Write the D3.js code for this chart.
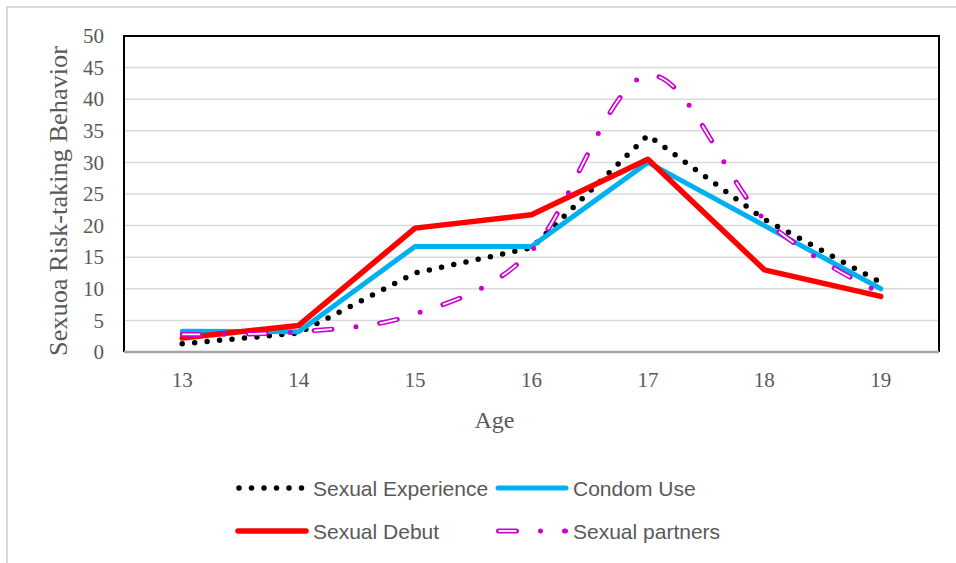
<!DOCTYPE html>
<html>
<head>
<meta charset="utf-8">
<script src="https://cdn.jsdelivr.net/npm/d3@7"></script>
<style>
  body { margin: 0; background: #fff; }
  svg { display: block; }
</style>
</head>
<body>
<svg width="956" height="563"></svg>
<script>
// chart data
var ages = ["13", "14", "15", "16", "17", "18", "19"];
var sexualExperience = [1.3, 3, 12.5, 16.5, 34.3, 21, 11];
var condomUse = [3.3, 3.2, 16.7, 16.7, 30, 20, 10];
var sexualDebut = [2.2, 4.2, 19.6, 21.7, 30.5, 13, 8.8];
var sexualPartners = [2.8, 3.2, 6, 16, 43.8, 21, 9.3];
var yTicks = [0, 5, 10, 15, 20, 25, 30, 35, 40, 45, 50];

var svg = d3.select("svg");

// outer chart border (only top and left visible)
svg.append("path")
  .attr("d", "M7,563 V7 H956")
  .attr("fill", "none")
  .attr("stroke", "#d9d9d9")
  .attr("stroke-width", 2);

var plot = { left: 124, right: 939, top: 36, bottom: 352 };

var x = d3.scaleBand()
  .domain(ages)
  .range([plot.left, plot.right]);

var y = d3.scaleLinear()
  .domain([0, 50])
  .range([plot.bottom, plot.top]);

// gridlines
svg.append("g")
  .selectAll("line")
  .data(yTicks.slice(1))
  .join("line")
  .attr("x1", plot.left)
  .attr("x2", plot.right)
  .attr("y1", function(d) { return y(d); })
  .attr("y2", function(d) { return y(d); })
  .attr("stroke", "#d9d9d9")
  .attr("stroke-width", 1.5);

// y axis labels
var yAxis = svg.append("g")
  .attr("transform", "translate(" + (plot.left - 20) + ",0)")
  .call(d3.axisLeft(y).tickValues(yTicks).tickSize(0).tickPadding(0));
yAxis.select(".domain").remove();
yAxis.selectAll("text")
  .attr("font-family", "'Liberation Serif', 'Times New Roman', serif")
  .attr("font-size", 21)
  .attr("fill", "#595959");

// x axis labels
var xAxis = svg.append("g")
  .attr("transform", "translate(0," + (plot.bottom + 20) + ")")
  .call(d3.axisBottom(x).tickSize(0).tickPadding(0));
xAxis.select(".domain").remove();
xAxis.selectAll("text")
  .attr("font-family", "'Liberation Serif', 'Times New Roman', serif")
  .attr("font-size", 21)
  .attr("fill", "#595959");

// plot frame
svg.append("path")
  .attr("d", "M" + plot.left + "," + plot.bottom + " V" + plot.top + " H" + plot.right + " V" + plot.bottom)
  .attr("fill", "none")
  .attr("stroke", "#000")
  .attr("stroke-width", 2);
svg.append("line")
  .attr("x1", plot.left).attr("x2", plot.right)
  .attr("y1", plot.bottom).attr("y2", plot.bottom)
  .attr("stroke", "#a6a6a6")
  .attr("stroke-width", 2.5);

// axis titles
svg.append("text")
  .attr("transform", "translate(67,201) rotate(-90)")
  .attr("text-anchor", "middle")
  .attr("font-family", "'Liberation Serif', 'Times New Roman', serif")
  .attr("font-size", 25)
  .attr("textLength", 310)
  .attr("lengthAdjust", "spacingAndGlyphs")
  .attr("fill", "#595959")
  .text("Sexuoa Risk-taking Behavior");

svg.append("text")
  .attr("x", (plot.left + plot.right) / 2 - 37)
  .attr("y", 428)
  .attr("text-anchor", "middle")
  .attr("font-family", "'Liberation Serif', 'Times New Roman', serif")
  .attr("font-size", 24)
  .attr("fill", "#595959")
  .text("Age");

// lines
var lineStraight = d3.line()
  .x(function(d, i) { return x(ages[i]) + x.bandwidth() / 2; })
  .y(function(d) { return y(d); });

var lineSmooth = d3.line()
  .x(function(d, i) { return x(ages[i]) + x.bandwidth() / 2; })
  .y(function(d) { return y(d); })
  .curve(d3.curveCardinal.tension(0));

var series = [
  { name: "Sexual Experience", values: sexualExperience, color: "#000000", width: 5.5, dash: "0,12.5", smooth: false },
  { name: "Condom Use", values: condomUse, color: "#00b0f0", width: 5, dash: null, smooth: false },
  { name: "Sexual Debut", values: sexualDebut, color: "#ff0000", width: 5.5, dash: null, smooth: false },
  { name: "Sexual partners", values: sexualPartners, color: "#cc00cc", width: 5, dash: "18,24,0,24", smooth: true }
];

// hollowDash: white inner stroke so the long dashes look outlined
function drawStroke(g, d, path, hollowDash) {
  g.append("path")
    .attr("d", path)
    .attr("fill", "none")
    .attr("stroke", d.color)
    .attr("stroke-width", d.width)
    .attr("stroke-linecap", "round")
    .attr("stroke-linejoin", "round")
    .attr("stroke-dasharray", d.dash);
  if (d.name === "Sexual partners") {
    g.append("path")
      .attr("d", path)
      .attr("fill", "none")
      .attr("stroke", "#fff")
      .attr("stroke-width", 1.8)
      .attr("stroke-dasharray", hollowDash);
  }
}

series.forEach(function(d) {
  var g = svg.append("g");
  var path = (d.smooth ? lineSmooth : lineStraight)(d.values);
  drawStroke(g, d, path, "18,48");
});

// legend
var legendPos = [
  { x: 238, y: 488 },
  { x: 498, y: 488 },
  { x: 238, y: 531 },
  { x: 498, y: 531 }
];

series.forEach(function(d, i) {
  var p = legendPos[i];
  var g = svg.append("g");
  var sample = d.name === "Sexual partners"
    ? "M" + (p.x + 0.5) + "," + p.y + " H" + (p.x + 67.5)
    : "M" + (d.dash ? p.x + 1 : p.x) + "," + p.y + " H" + (p.x + 68);
  drawStroke(g, d, sample, "18,200");
  g.append("text")
    .attr("x", p.x + 75)
    .attr("y", p.y + 7.5)
    .attr("font-family", "'Liberation Sans', Arial, sans-serif")
    .attr("font-size", 21)
    .attr("fill", "#595959")
    .text(d.name);
});
</script>
</body>
</html>
